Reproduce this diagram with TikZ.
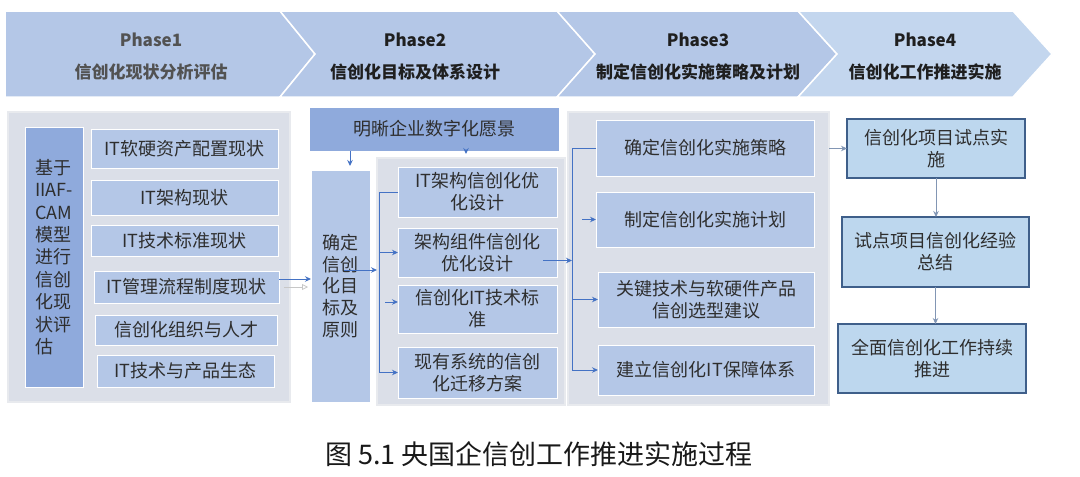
\documentclass[tikz,border=0pt]{standalone}
\usepackage{fontspec}
\setmainfont{Noto Sans CJK SC}
\usetikzlibrary{arrows.meta}
\definecolor{hdr}{HTML}{B4C7E7}
\definecolor{hdrlt}{HTML}{C3D6EE}
\definecolor{panelc}{HTML}{DBDFE8}
\definecolor{panelb}{HTML}{E8EAEE}
\definecolor{lb}{HTML}{B4C7E7}
\definecolor{db}{HTML}{8FAADC}
\definecolor{pf}{HTML}{BDD7EE}
\definecolor{pd}{HTML}{3F5F8A}
\definecolor{ablue}{HTML}{4472C4}
\definecolor{agray}{HTML}{8296B4}
\definecolor{tx}{HTML}{2E2E2E}
\newcommand{\mybox}[7]{\node[#6, minimum width={(#4-#2)*1pt}, minimum height={(#5-#3)*1pt}] (#1) at ({(#2+#4)/2},{(#3+#5)/2}) {#7};}
\begin{document}
\begin{tikzpicture}[x=1pt,y=-1pt,
  font=\fontsize{18}{22}\selectfont, text=tx,
  box/.style={rectangle, inner sep=0pt, outer sep=0pt, align=center},
  lbox/.style={box, fill=lb, draw=white, line width=1pt},
  dbox/.style={box, fill=db, draw=white, line width=1pt},
  pbox/.style={box, fill=pf, draw=pd, line width=1.3pt},
  panel/.style={box, fill=panelc, draw=panelb, line width=1.2pt},
  hd/.style={align=center, font=\bfseries\fontsize{17}{32}\selectfont},
  chev/.style={draw=white, line width=1.5pt},
  arr/.style={draw=ablue, line width=1pt, -{Stealth[length=6pt,width=5.5pt]}},
  arrg/.style={draw=agray, line width=1pt, -{Stealth[length=6pt,width=5.5pt,fill=ablue]}},
  ln/.style={draw=ablue, line width=1pt}]
\fill[white] (0,0) rectangle (1080,477);
\useasboundingbox (0,0) rectangle (1080,477);
% header chevrons
\fill[hdr, chev] (5,11) -- (280,11) -- (315,54) -- (280,97) -- (5,97) -- cycle;
\fill[hdr, chev] (280,11) -- (557,11) -- (595,54) -- (557,97) -- (280,97) -- (315,54) -- cycle;
\fill[hdr, chev] (557,11) -- (798,11) -- (837,54) -- (798,97) -- (557,97) -- (595,54) -- cycle;
\fill[hdrlt, chev] (798,11) -- (1013,11) -- (1052,54) -- (1013,97) -- (798,97) -- (837,54) -- cycle;
\node[hd, text=black!68] (h1) at (151,57) {Phase1\\信创化现状分析评估};
\node[hd, text=black!88] (h2) at (415,57) {Phase2\\信创化目标及体系设计};
\node[hd, text=black!88] (h3) at (698,57) {Phase3\\制定信创化实施策略及计划};
\node[hd, text=black!88] (h4) at (925,57) {Phase4\\信创化工作推进实施};
% phase 1
\mybox{p1}{8}{112}{290}{402}{panel}{}
\mybox{a0}{25}{127}{83}{387}{dbox, align=left, font=\fontsize{18}{22.4}\selectfont}{基于\\IIAF-\\CAM\\模型\\进行\\信创\\化现\\状评\\估}
\mybox{b1}{91}{129}{278}{168}{lbox}{IT软硬资产配置现状}
\mybox{b2}{91}{180}{278}{215}{lbox}{IT架构现状}
\mybox{b3}{91}{225}{278}{256}{lbox}{IT技术标准现状}
\mybox{b4}{94}{271}{279}{303}{lbox}{IT管理流程制度现状}
\mybox{b5}{95}{315}{277}{345}{lbox}{信创化组织与人才}
\mybox{b6}{97}{355}{274}{387}{lbox}{IT技术与产品生态}
% phase 2
\mybox{vis}{309}{107}{559}{151}{dbox}{明晰企业数字化愿景}
\mybox{qd}{311}{170}{370}{402}{lbox, align=left, font=\fontsize{18}{21.8}\selectfont}{确定\\信创\\化目\\标及\\原则}
\mybox{p2}{377}{158}{565}{405}{panel}{}
\mybox{c1}{398}{167}{557}{217}{lbox}{IT架构信创化优\\化设计}
\mybox{c2}{398}{228}{557}{277}{lbox}{架构组件信创化\\优化设计}
\mybox{c3}{398}{285}{557}{333}{lbox}{信创化IT技术标\\准}
\mybox{c4}{398}{347}{557}{398}{lbox}{现有系统的信创\\化迁移方案}
% phase 3
\mybox{p3}{568}{112}{829}{405}{panel}{}
\mybox{d1}{596}{120}{814}{176}{lbox}{确定信创化实施策略}
\mybox{d2}{596}{192}{814}{247}{lbox}{制定信创化实施计划}
\mybox{d3}{598}{272}{814}{327}{lbox}{关键技术与软硬件产品\\信创选型建议}
\mybox{d4}{598}{345}{814}{395}{lbox}{建立信创化IT保障体系}
% phase 4
\mybox{e1}{847}{119}{1025}{178}{pbox}{信创化项目试点实\\施}
\mybox{e2}{842}{217}{1029}{287}{pbox}{试点项目信创化经验\\总结}
\mybox{e3}{838}{324}{1026}{393}{pbox}{全面信创化工作持续\\推进}
% connectors phase1 -> phase2
\coordinate (g1) at (284,287);
\coordinate (g2) at (308,287);
\draw[arr] ([yshift=8pt]b4.east) -- ([yshift=8pt]b4.east -| qd.west);
\draw[black!22, line width=0.8pt, -{Triangle[open,length=6pt,width=6pt]}] (g1) -- (g2);
% vision arrows
\coordinate (v1) at (350,0);
\coordinate (v2) at (466,0);
\draw[arr, shorten >=4pt] (vis.south -| v1) -- (qd.north -| v1);
\draw[arr, shorten >=4pt] (vis.south -| v2) -- (p2.north -| v2);
% qd -> inner panel
\coordinate (q2) at (344,270);
\draw[arr] (q2) -- (q2 -| p2.west);
% trunk in phase 2
\coordinate (t2) at (379,0);
\coordinate (c3w) at ([yshift=7pt]c3.west);
\draw[ln] (c1.west) -- (t2 |- c1.west) -- (t2 |- c4.west);
\draw[arr] (t2 |- c2.west) -- (c2.west);
\draw[arr] ([xshift=6pt]t2 |- c3w) -- (c3w);
\draw[arr] (t2 |- c4.west) -- (c4.west);
% phase 2 -> phase 3
\coordinate (t3) at (572,0);
\coordinate (c2o) at ([xshift=-14pt,yshift=-8pt]c2.east);
\draw[arr] (c2o) -- (c2o -| t3);
\draw[ln] (d1.west) -- (t3 |- d1.west) -- (t3 |- d4.west);
\draw[arr] ([xshift=10pt]t3 |- d2.west) -- (d2.west);
\draw[arr] (t3 |- d3.west) -- (d3.west);
\draw[arr] (t3 |- d4.west) -- (d4.west);
% phase 3 -> phase 4
\draw[arrg] (p3.east |- e1.west) -- (e1.west);
\draw[arrg] (e1.south) -- (e1.south |- e2.north);
\draw[arrg] (e2.south) -- (e2.south |- e3.north);
% caption
\node[font=\fontsize{27}{30}\selectfont, text=black!90] (cap) at (539,454) {图 5.1 央国企信创工作推进实施过程};
\end{tikzpicture}
\end{document}
